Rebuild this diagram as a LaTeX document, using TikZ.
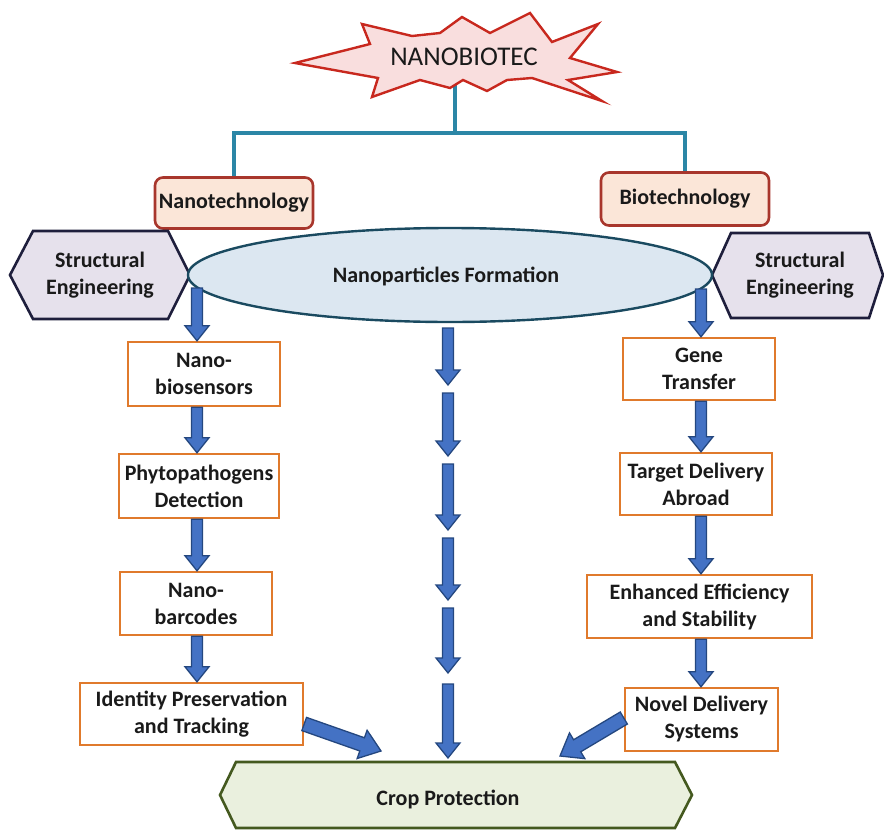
\documentclass[tikz,border=0pt]{standalone}
\usepackage{fontspec}
\setmainfont{Carlito}
\usetikzlibrary{calc,shapes.geometric}

\definecolor{burstfill}{HTML}{F9DEDE}
\definecolor{burstedge}{HTML}{C8281E}
\definecolor{linkteal}{HTML}{2B86A6}
\definecolor{techfill}{HTML}{FBE6D8}
\definecolor{techedge}{HTML}{A8362C}
\definecolor{ellfill}{HTML}{DCE7F1}
\definecolor{elledge}{HTML}{1A4A60}
\definecolor{hexfill}{HTML}{E6E1EC}
\definecolor{hexedge}{HTML}{1E1E3C}
\definecolor{stepedge}{HTML}{E07A2C}
\definecolor{arrowfill}{HTML}{4472C4}
\definecolor{arrowedge}{HTML}{24477F}
\definecolor{cropfill}{HTML}{EAF0DE}
\definecolor{cropedge}{HTML}{44591F}
\definecolor{ink}{HTML}{1A1A1A}

\begin{document}
\begin{tikzpicture}[x=1pt,y=-1pt,
  txt/.style={text=ink, font=\fontsize{22}{27}\selectfont\bfseries, align=center, inner sep=0pt},
  techbox/.style={txt, draw=techedge, fill=techfill, line width=2.6pt, rounded corners=8pt},
  stepbox/.style={txt, draw=stepedge, fill=white, line width=2.4pt},
  hexbox/.style={draw=hexedge, fill=hexfill, line width=2.6pt, line join=miter},
  link/.style={draw=linkteal, line width=3.4pt},
  blockarrow/.style n args={5}{fill=arrowfill, draw=arrowedge, line width=1.3pt, line join=miter,
    to path={
      ($(\tikztostart)!#1!90:(\tikztotarget)$)
      -- ($(\tikztotarget)!#2!-#3:(\tikztostart)$)
      -- ($(\tikztotarget)!#4!-#5:(\tikztostart)$)
      -- (\tikztotarget)
      -- ($(\tikztotarget)!#4!#5:(\tikztostart)$)
      -- ($(\tikztotarget)!#2!#3:(\tikztostart)$)
      -- ($(\tikztostart)!#1!-90:(\tikztotarget)$)
      -- cycle}},
  varrow/.style={blockarrow={5.5pt}{15.98pt}{20.14}{19.21pt}{38.66}},
  darrow/.style={blockarrow={7pt}{21.19pt}{19.29}{25pt}{36.87}}
]
\useasboundingbox (0,0) rectangle (884,830);

% top link from the burst to the two disciplines
\coordinate (burstfoot) at (455,84);
\coordinate (bar) at (455,133);
\node[techbox, minimum width=158pt, minimum height=51pt] (nano) at (234,203) {Nanotechnology};
\node[techbox, minimum width=168pt, minimum height=53pt] (bio) at (685,199) {Biotechnology};
\draw[link] (burstfoot) -- (bar);
\draw[link] (nano.north) -- (nano.north |- bar) -- (bio.north |- bar) -- (bio.north);

% the burst title
\draw[draw=burstedge, fill=burstfill, line width=2.4pt, line join=miter]
  (295,63) -- (370,44) -- (362,24) -- (412,36) -- (440,33) -- (462,17) -- (490,33)
  -- (530,13) -- (552,42) -- (598,24) -- (570,58) -- (617,72) -- (568,80) -- (602,101)
  -- (532,78) -- (507,80) -- (487,91) -- (463,80) -- (450,88) -- (420,80) -- (372,97)
  -- (378,78) -- cycle;
\node[text=ink, font=\fontsize{27}{30}\selectfont, inner sep=0pt] (title) at (464,57) {NANOBIOTEC};

% structural engineering hexagons
\draw[hexbox] (10,275) -- (33,231) -- (168,231) -- (190,275) -- (168,319) -- (33,319) -- cycle;
\node[txt] (seleft) at (100,275) {Structural\\Engineering};
\draw[hexbox] (712,275) -- (731,233) -- (869,233) -- (883,275) -- (869,318) -- (731,318) -- cycle;
\node[txt] (seright) at (800,275) {Structural\\Engineering};

% central ellipse
\node[ellipse, draw=elledge, fill=ellfill, line width=2.4pt, minimum width=524pt, minimum height=94pt, inner sep=0pt] (ell) at (450,275) {};
\node[txt] (elltext) at (446,276) {Nanoparticles Formation};

% left chain
\node[stepbox, minimum width=152pt, minimum height=64pt] (nbio) at (204,374) {Nano-\\biosensors};
\node[stepbox, minimum width=160pt, minimum height=64pt] (phyto) at (199,486) {Phytopathogens\\Detection};
\node[stepbox, minimum width=152pt, minimum height=63pt] (nbar) at (196,603.5) {Nano-\\barcodes};
\node[stepbox, minimum width=223pt, minimum height=62pt] (ident) at (191.5,714) {Identity Preservation\\and Tracking};

% right chain
\node[stepbox, minimum width=152pt, minimum height=62pt] (gene) at (699,369) {Gene\\Transfer};
\node[stepbox, minimum width=152pt, minimum height=62pt] (target) at (696,484) {Target Delivery\\Abroad};
\node[stepbox, minimum width=225pt, minimum height=63pt] (enh) at (699.5,606.5) {Enhanced Efficiency\\and Stability};
\node[stepbox, minimum width=153pt, minimum height=63pt] (novel) at (701.5,719.5) {Novel Delivery\\Systems};

% crop protection banner
\draw[draw=cropedge, fill=cropfill, line width=2.6pt, line join=miter]
  (220,795) -- (236,762) -- (675,762) -- (692,795) -- (675,828) -- (236,828) -- cycle;
\node[txt] (crop) at (448,799) {Crop Protection};

% left chain arrows
\coordinate (lx) at (197,288);
\draw[varrow] (lx) to (lx |- nbio.north);
\draw[varrow] (lx |- nbio.south) to (lx |- phyto.north);
\draw[varrow] (lx |- phyto.south) to (lx |- nbar.north);
\draw[varrow] (lx |- nbar.south) to (lx |- ident.north);

% right chain arrows
\coordinate (rx) at (701,289);
\draw[varrow] (rx) to (rx |- gene.north);
\draw[varrow] (rx |- gene.south) to (rx |- target.north);
\draw[varrow] (rx |- target.south) to (rx |- enh.north);
\draw[varrow] (rx |- enh.south) to (rx |- novel.north);

% middle arrows straight down to the banner
\foreach \a/\b [count=\i] in {328/385, 393/456, 464/530, 538/600, 608/673, 684/758} {
  \coordinate (ms\i) at (448,\a);
  \coordinate (me\i) at (448,\b);
  \draw[varrow] (ms\i) to (me\i);
}

% side arrows into the banner
\coordinate (lin) at (381,751);
\coordinate (rin) at (560,756);
\draw[darrow] (ident.east |- 0,724) to (lin);
\draw[darrow] (novel.west |- 0,718) to (rin);
\end{tikzpicture}
\end{document}
